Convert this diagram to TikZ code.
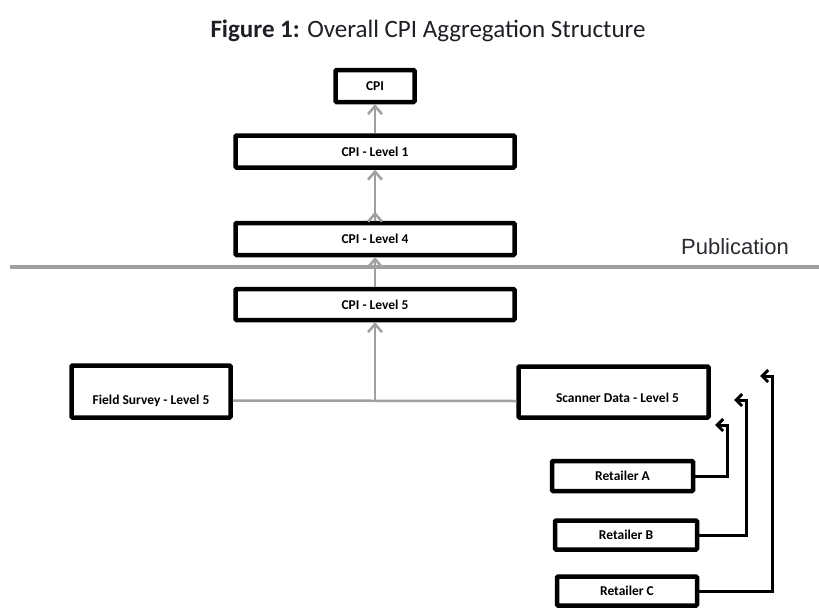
\documentclass[tikz,border=0pt]{standalone}
\usepackage{fontspec}
\setmainfont{Carlito}
\newfontfamily\pubfont{Liberation Sans}
\usetikzlibrary{arrows.meta,positioning}
\definecolor{linkgray}{HTML}{A0A0A0}
\definecolor{captiondark}{HTML}{1E1E24}
\definecolor{pubdark}{HTML}{2A2A30}

\begin{document}
\begin{tikzpicture}[
    x=1pt, y=-1pt,
    level/.style={draw=black, line width=4.5pt, rounded corners=1pt, fill=white,
      font=\fontsize{13.5}{15}\selectfont\bfseries, inner sep=0pt, minimum height=32pt},
    wide/.style={level, minimum width=279pt},
    retailer/.style={level, minimum width=141pt, minimum height=30pt},
    caption/.style={font=\fontsize{25}{29}\selectfont, text=captiondark},
    pub/.style={font=\pubfont\fontsize{22}{26}\selectfont, text=pubdark},
    publine/.style={line width=4pt, draw=linkgray},
    link/.style={line width=2.5pt, draw=linkgray},
    uparrow/.style={link, -{Straight Barb[length=8pt,width=14pt,line width=2.5pt]}},
    feed/.style={line width=3pt, draw=black, -{Straight Barb[length=6pt,width=12pt,line width=3pt]}}
  ]
    \useasboundingbox (0,0) rectangle (819,608);

    \node[caption] (title) at (428,31) {\textbf{Figure 1:} Overall CPI Aggregation Structure};

    \node[level, minimum width=79pt] (cpi) at (375,86) {CPI};
    \node[wide] (lvlone) at (375,151.5) {CPI - Level 1};
    \node[wide] (lvlfour) at (375,239) {CPI - Level 4};
    \node[wide, minimum height=31pt] (lvlfive) at (375,304.5) {CPI - Level 5};

    \coordinate (publeft) at (10,267);
    \coordinate (pubright) at (819,267);
    \draw[publine] (publeft) -- (pubright);
    \node[pub] (pubtext) at (735,247) {Publication};

    \node[level, minimum width=159pt, minimum height=52pt] (field) at (151,391.5)
      {\raisebox{-13pt}[0pt][0pt]{Field Survey - Level 5}};
    \node[level, minimum width=190pt, minimum height=51pt] (scanner) at (613.5,392)
      {\raisebox{-10.5pt}[0pt][0pt]{\hspace{8pt}Scanner Data - Level 5}};

    \node[retailer] (reta) at (622.5,476) {Retailer A};
    \node[retailer, minimum width=142pt, minimum height=29pt] (retb) at (626,535) {Retailer B};
    \node[retailer, minimum width=140pt, minimum height=29pt] (retc) at (627,591) {Retailer C};

    \draw[uparrow] (lvlone.north) -- (cpi.south);
    \draw[uparrow] (lvlfour.north) -- (lvlone.south);
    \draw[uparrow] (lvlfour.north) -- ++(0,-9);
    \draw[uparrow] (lvlfive.north) -- (lvlfour.south);

    \coordinate (fieldout) at ([yshift=-9pt]field.east);
    \coordinate (scannerin) at ([yshift=-9pt]scanner.west);
    \draw[link] (fieldout) -- (scannerin);
    \draw[uparrow] (lvlfive.south |- fieldout) -- (lvlfive.south);

    \coordinate (corna) at (727,425);
    \coordinate (tipa) at (715,425);
    \coordinate (cornb) at (746,400);
    \coordinate (tipb) at (734,400);
    \coordinate (cornc) at (772,376);
    \coordinate (tipc) at (760,376);
    \draw[feed] (reta.east) -| (corna) -- (tipa);
    \draw[feed] (retb.east) -| (cornb) -- (tipb);
    \draw[feed] (retc.east) -| (cornc) -- (tipc);
  \end{tikzpicture}
\end{document}
